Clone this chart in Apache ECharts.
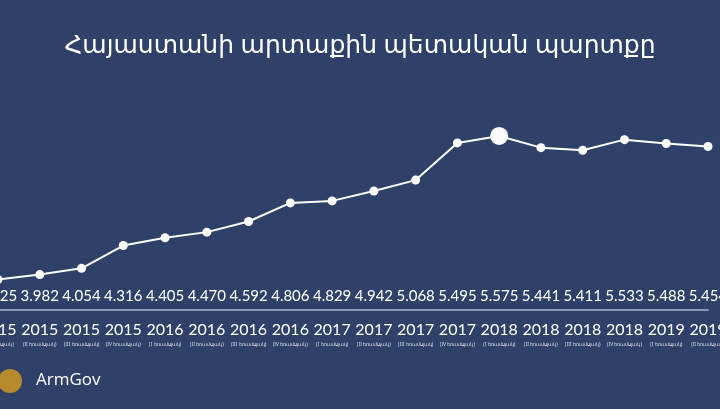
<!DOCTYPE html>
<head>
    <meta charset="utf-8">
    <script type="text/javascript" src="https://cdn.jsdelivr.net/npm/echarts@6/dist/echarts.min.js"></script>
</head>
<body style="height: 409px; margin: 0; background: #2f4169">
<div id="container" style="height: 100%"></div>
<script type="text/javascript">
    var years = ['2015', '2015', '2015', '2015', '2016', '2016', '2016', '2016', '2017', '2017', '2017', '2017', '2018', '2018', '2018', '2018', '2019', '2019'];
    var quarters = ['I', 'II', 'III', 'IV', 'I', 'II', 'III', 'IV', 'I', 'II', 'III', 'IV', 'I', 'II', 'III', 'IV', 'I', 'II'];
    var debt = [3.925, 3.982, 4.054, 4.316, 4.405, 4.470, 4.592, 4.806, 4.829, 4.942, 5.068, 5.495, 5.575, 5.441, 5.411, 5.533, 5.488, 5.454];

    var idx = years.map(function (y, i) { return i; });
    var myChart = echarts.init(document.getElementById('container'));
    var option = {
        backgroundColor: '#2f4169',
        animation: false,
        textStyle: { fontFamily: 'Lato, "Noto Sans", sans-serif' },
        title: {
            text: 'Հայաստանի արտաքին պետական պարտքը',
            left: 'center',
            top: 28,
            textStyle: { color: '#ffffff', fontSize: 25, fontWeight: 'normal', fontFamily: '"Noto Sans", "DejaVu Sans", sans-serif' }
        },
        grid: { left: -2, right: 12, top: 99, bottom: 99, containLabel: false, outerBoundsMode: 'none' },
        xAxis: [{
            type: 'category',
            data: idx,
            boundaryGap: false,
            axisLine: { lineStyle: { color: '#a9b6d3', width: 1.5 } },
            axisTick: { show: false },
            axisLabel: {
                interval: 0,
                hideOverlap: false,
                margin: 10,
                formatter: function (v) {
                    return '{y|' + years[v] + '}\n{q|(' + quarters[v] + ' եռամսյակ)}';
                },
                rich: {
                    y: { color: '#ffffff', fontSize: 16, lineHeight: 20, fontFamily: 'Lato, sans-serif' },
                    q: { color: '#d8deea', fontSize: 5, lineHeight: 9, fontFamily: '"Noto Sans", sans-serif' }
                }
            }
        }, {
            type: 'category',
            data: idx,
            boundaryGap: false,
            position: 'bottom',
            axisLine: { show: false },
            axisTick: { show: false },
            axisLabel: {
                interval: 0,
                hideOverlap: false,
                inside: true,
                margin: 6,
                color: '#ffffff',
                fontSize: 15,
                formatter: function (v) { return debt[v].toFixed(3); }
            }
        }],
        yAxis: { type: 'value', min: 3.575, max: 6.0, show: false },
        series: [{
            type: 'line',
            data: debt.map(function (v, i) {
                return i === 12 ? { value: v, symbolSize: 18 } : v;
            }),
            symbol: 'circle',
            symbolSize: 9,
            lineStyle: { color: '#ffffff', width: 2 },
            itemStyle: { color: '#ffffff' }
        }],
        graphic: [{
            type: 'circle',
            shape: { cx: 10, cy: 381, r: 12 },
            style: { fill: '#b88a2e' }
        }, {
            type: 'text',
            left: 36,
            top: 372,
            style: { text: 'ArmGov', fill: '#ffffff', fontSize: 17, fontFamily: '"Open Sans", sans-serif' }
        }]
    };
    myChart.setOption(option);
</script>
</body>
</html>
